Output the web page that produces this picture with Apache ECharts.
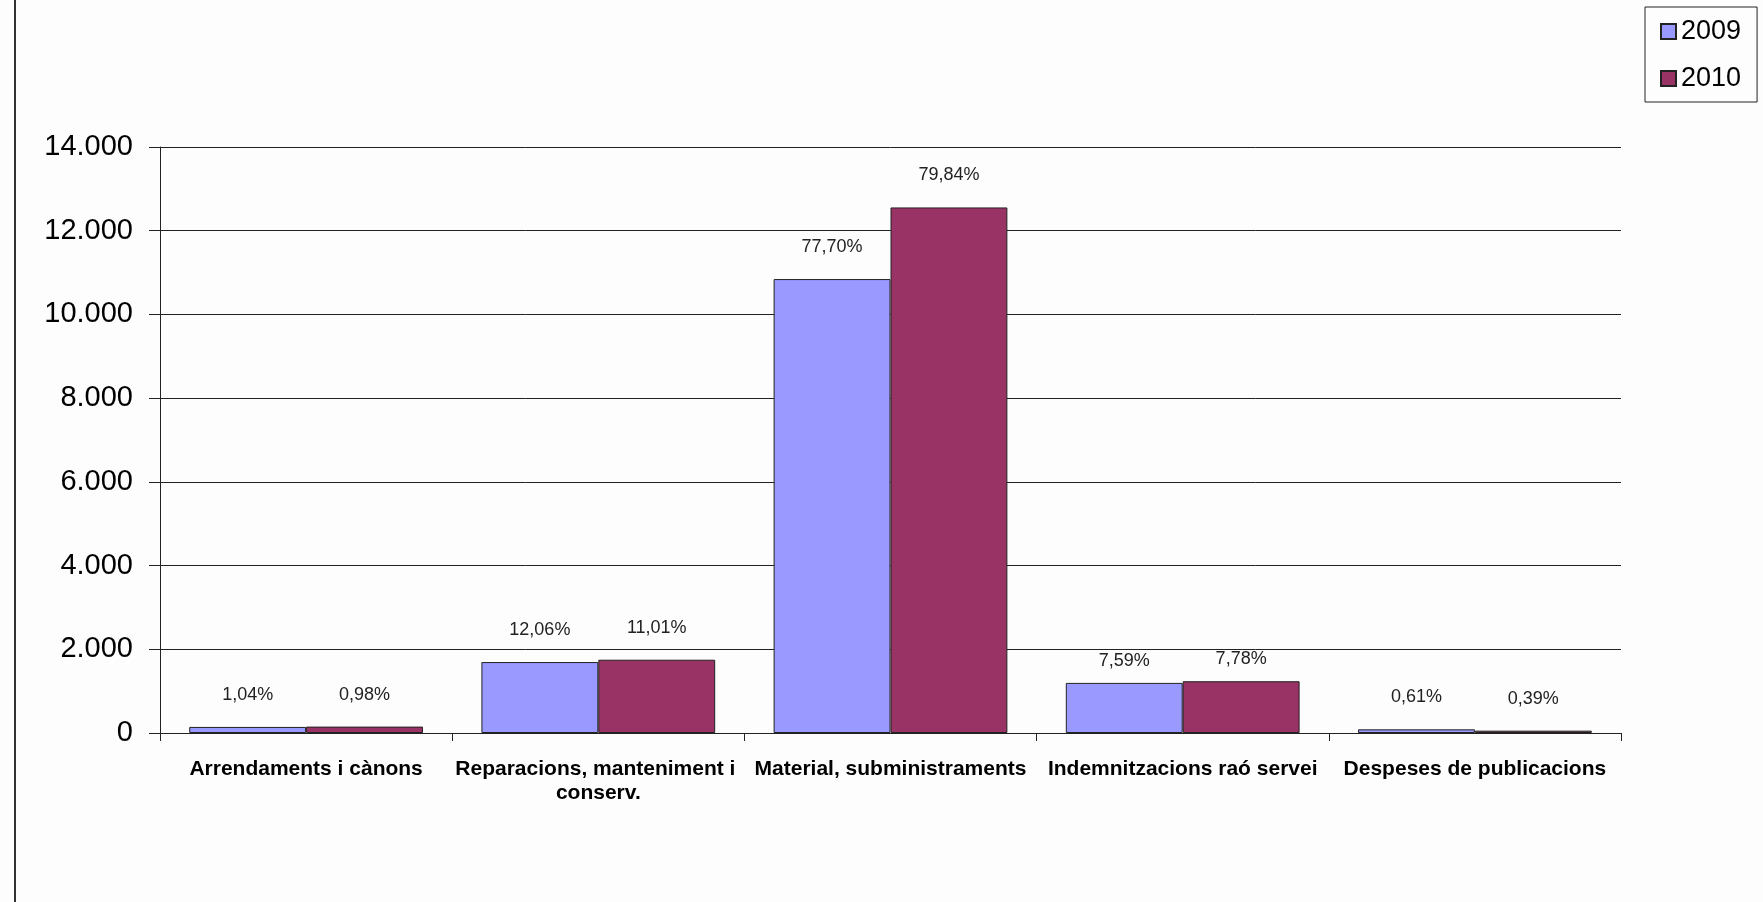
<!DOCTYPE html>
<html>
<head>
<meta charset="utf-8">
<script src="https://cdn.jsdelivr.net/npm/echarts@6/dist/echarts.min.js"></script>
<style>
html,body{margin:0;padding:0;background:#fdfdfd;}
#chart{width:1763px;height:902px;}
</style>
</head>
<body>
<div id="chart"></div>
<script>
const categories = ['Arrendaments i cànons', 'Reparacions, manteniment i conserv.', 'Material, subministraments', 'Indemnitzacions raó servei', 'Despeses de publicacions'];
const seriesNames = ['2009', '2010'];
const values2009 = [145, 1695, 10845, 1197, 88];
const values2010 = [153, 1751, 12556, 1237, 56];
const pct2009 = ['1,04%', '12,06%', '77,70%', '7,59%', '0,61%'];
const pct2010 = ['0,98%', '11,01%', '79,84%', '7,78%', '0,39%'];
const yMin = 0, yMax = 14000, yStep = 2000;

function fmtThousands(v) {
  return String(v).replace(/\B(?=(\d{3})+(?!\d))/g, '.');
}

const chart = echarts.init(document.getElementById('chart'));

function makeSeries(name, vals, pcts, color) {
  return {
    name: name,
    type: 'bar',
    barGap: '0%',
    barCategoryGap: '20%',
    data: vals.map((v, i) => i === 3 ? { value: v, label: { distance: 13 } } : v),
    itemStyle: { color: color, borderColor: '#222', borderWidth: 1 },
    label: {
      show: true,
      position: 'top',
      distance: 23,
      fontFamily: 'Liberation Sans, Arial, sans-serif',
      fontSize: 18,
      color: '#222',
      formatter: p => pcts[p.dataIndex]
    }
  };
}

chart.setOption({
  backgroundColor: '#fdfdfd',
  animation: false,
  grid: { left: 160, right: 142, top: 147, bottom: 169, containLabel: false },
  legend: {
    orient: 'vertical',
    left: 1645,
    top: 7,
    padding: [11, 16, 10, 15],
    itemGap: 20,
    itemWidth: 15,
    itemHeight: 15,
    icon: 'rect',
    borderColor: '#222',
    borderWidth: 1,
    textStyle: { fontFamily: 'Liberation Sans, Arial, sans-serif', fontSize: 27, color: '#000' },
    data: seriesNames
  },
  xAxis: {
    type: 'category',
    data: categories,
    axisLine: { lineStyle: { color: '#222', width: 1 } },
    axisTick: { show: true, length: 8, lineStyle: { color: '#222' } },
    axisLabel: {
      interval: 0,
      margin: 24,
      width: 290,
      overflow: 'break',
      fontFamily: 'Liberation Sans, Arial, sans-serif',
      fontWeight: 'bold',
      fontSize: 21,
      lineHeight: 24,
      color: '#000'
    }
  },
  yAxis: {
    type: 'value',
    min: yMin,
    max: yMax,
    interval: yStep,
    axisLine: { show: true, lineStyle: { color: '#222', width: 1 } },
    axisTick: { show: true, length: 11, lineStyle: { color: '#222' } },
    splitLine: { show: true, lineStyle: { color: '#222', width: 1 } },
    axisLabel: {
      margin: 27,
      fontFamily: 'Liberation Sans, Arial, sans-serif',
      fontSize: 29,
      color: '#000',
      formatter: v => fmtThousands(v)
    }
  },
  graphic: [{
    type: 'line',
    shape: { x1: 15, y1: 0, x2: 15, y2: 902 },
    style: { stroke: '#333', lineWidth: 2 }
  }],
  series: [
    makeSeries(seriesNames[0], values2009, pct2009, '#9999ff'),
    makeSeries(seriesNames[1], values2010, pct2010, '#993366')
  ]
});
</script>
</body>
</html>
